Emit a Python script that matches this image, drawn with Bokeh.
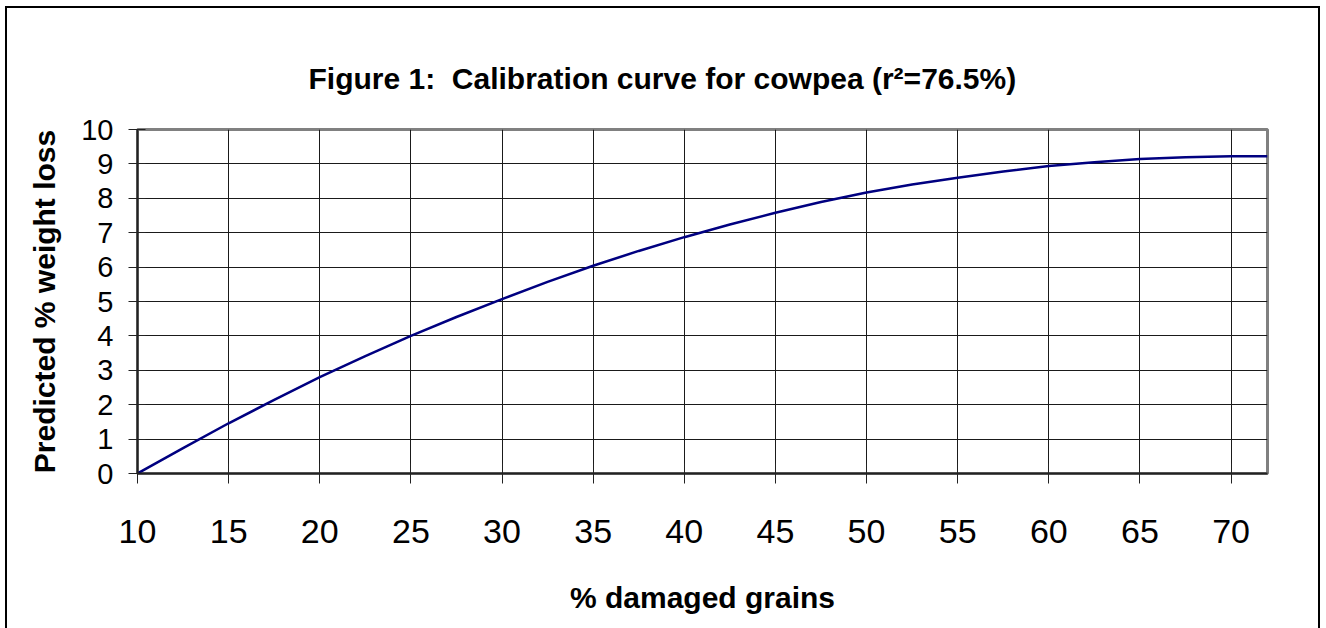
from bokeh.plotting import figure
from bokeh.models import Range1d, FixedTicker, Title
from bokeh.embed import file_html
from bokeh.resources import INLINE

# ---- data ----
damaged_pct = [10, 12.5, 15, 17.5, 20, 22.5, 25, 27.5, 30, 32.5, 35, 37.5, 40,
               42.5, 45, 47.5, 50, 52.5, 55, 57.5, 60, 62.5, 65, 67.5, 70, 72]
weight_loss = [0.0, 0.74, 1.46, 2.14, 2.80, 3.41, 4.00, 4.55, 5.07, 5.57, 6.04, 6.47, 6.87,
               7.24, 7.58, 7.89, 8.17, 8.40, 8.60, 8.78, 8.94, 9.05, 9.14, 9.19, 9.22, 9.22]
x_ticks = [10, 15, 20, 25, 30, 35, 40, 45, 50, 55, 60, 65, 70]
y_ticks = [0, 1, 2, 3, 4, 5, 6, 7, 8, 9, 10]
title_text = "Figure 1:\u00a0 Calibration curve for cowpea (r\u00b2=76.5%)"
x_label = "% damaged grains"
y_label = "Predicted % weight loss"

FONT = "Liberation Sans"

p = figure(frame_width=1130, frame_height=344,
           min_border_left=130, min_border_right=51,
           min_border_top=121, min_border_bottom=155,
           x_range=Range1d(10, 72), y_range=Range1d(0, 10),
           output_backend="svg", toolbar_location=None,
           background_fill_color="white", border_fill_color="white")

p.styles = {"margin": "6px 0px 0px 5px",
            "border-left": "2px solid black",
            "border-top": "2px solid black",
            "border-right": "2px solid black"}

p.outline_line_color = "#808080"
p.outline_line_width = 3

# grid
p.xgrid.ticker = FixedTicker(ticks=x_ticks)
p.ygrid.ticker = FixedTicker(ticks=y_ticks)
for g in (p.xgrid, p.ygrid):
    g.grid_line_color = "#1a1a1a"
    g.grid_line_width = 1

# x axis
xa = p.xaxis[0]
xa.ticker = FixedTicker(ticks=x_ticks)
xa.axis_line_color = "#222222"
xa.axis_line_width = 2
xa.major_tick_in = 10
xa.major_tick_out = 10
xa.major_tick_line_color = "#222222"
xa.minor_tick_line_color = None
xa.major_label_text_font = FONT
xa.major_label_text_font_size = "34px"
xa.major_label_text_color = "black"
xa.major_label_standoff = 36
xa.axis_label = x_label
xa.axis_label_text_font = FONT
xa.axis_label_text_font_style = "bold"
xa.axis_label_text_font_size = "30px"
xa.axis_label_text_color = "black"
xa.axis_label_standoff = 35

# y axis
ya = p.yaxis[0]
ya.ticker = FixedTicker(ticks=y_ticks)
ya.axis_line_color = "#222222"
ya.axis_line_width = 2
ya.major_tick_in = 8
ya.major_tick_out = 9
ya.major_tick_line_color = "#222222"
ya.minor_tick_line_color = None
ya.major_label_text_font = FONT
ya.major_label_text_font_size = "29px"
ya.major_label_text_color = "black"
ya.major_label_standoff = 15
ya.axis_label = y_label
ya.axis_label_text_font = FONT
ya.axis_label_text_font_style = "bold"
ya.axis_label_text_font_size = "30px"
ya.axis_label_text_color = "black"
ya.axis_label_standoff = 17

# curve
p.line(damaged_pct, weight_loss, line_color="#000080", line_width=2.5)

# title
p.add_layout(Title(text=title_text, align="left", offset=171, standoff=70,
                   text_font=FONT, text_font_style="bold", text_font_size="30px",
                   text_color="black"), "above")

open("out.html", "w").write(file_html(p, INLINE))
